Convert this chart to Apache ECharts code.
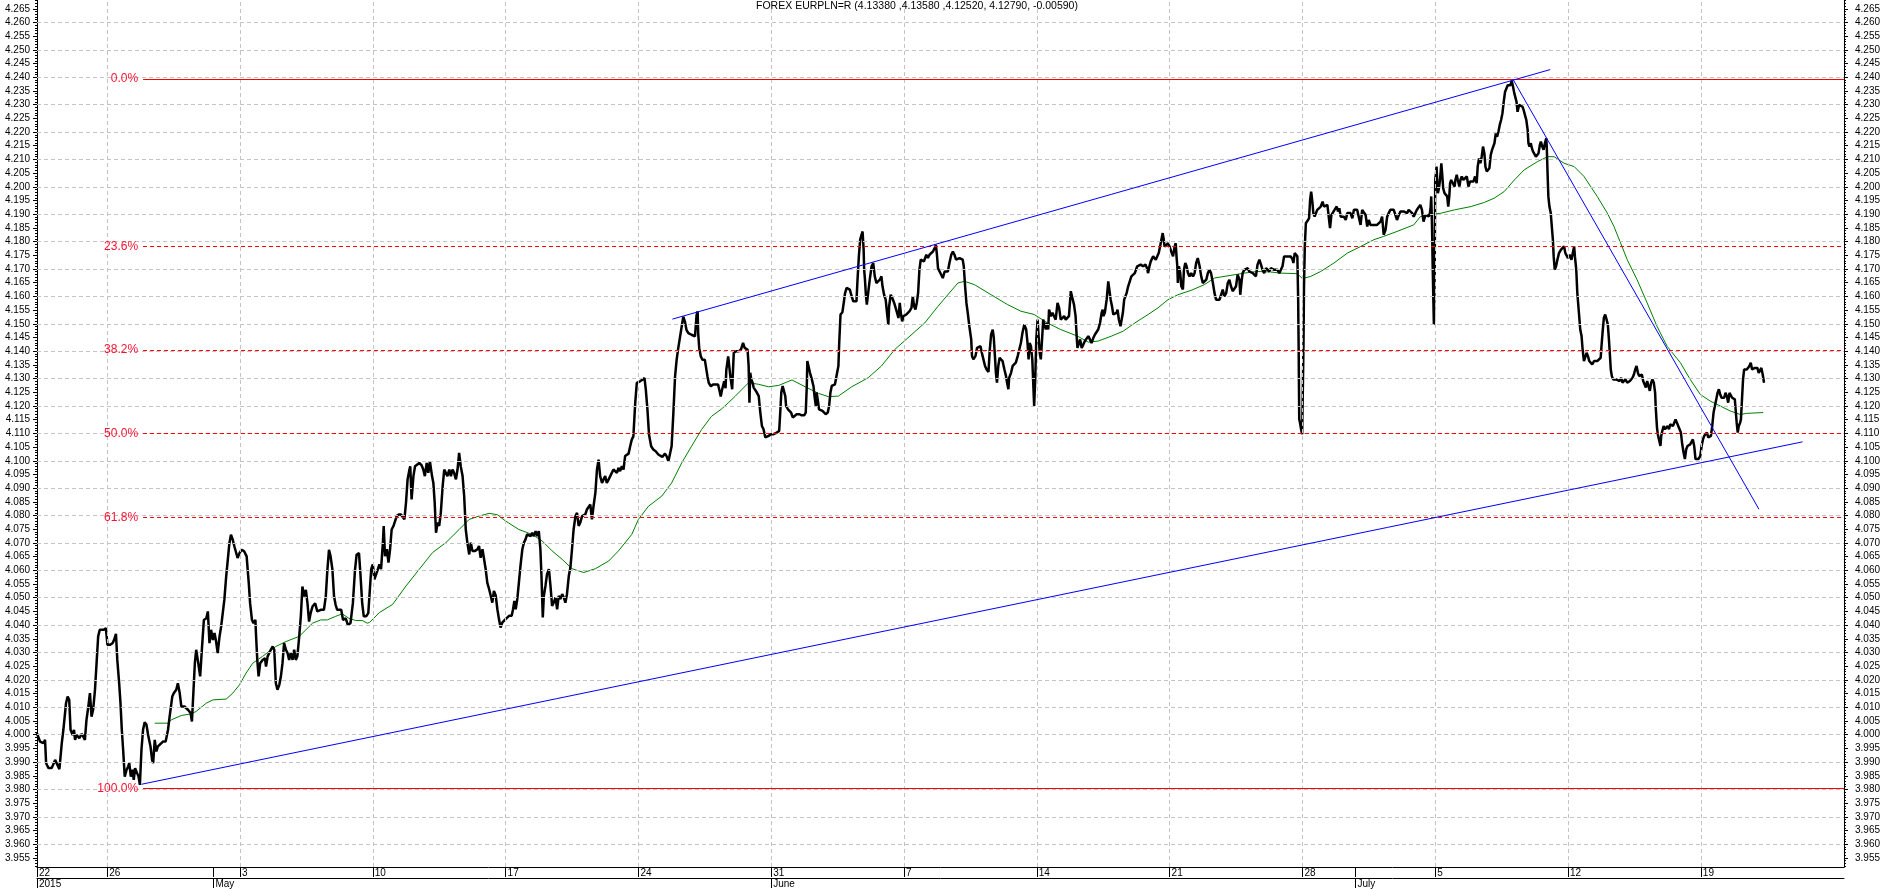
<!DOCTYPE html>
<html><head><meta charset="utf-8">
<script src="https://cdn.jsdelivr.net/npm/echarts@6/dist/echarts.min.js"></script>
<style>html,body{margin:0;padding:0;background:#fff}#c{width:1883px;height:889px}</style>
</head><body><div id="c"></div>
<script>
const titleText = 'FOREX EURPLN=R (4.13380 ,4.13580 ,4.12520, 4.12790, -0.00590)';
// x unit: trading days counted from the Sunday 26 Apr 2015 week tick
const xStart = -2.643, xEnd = 65.39;
const weekTicks = [xStart, 0, 5, 10, 15, 20, 25, 30, 35, 40, 45, 50, 55, 60];
const weekLabels = ['22', '26', '3', '10', '17', '24', '31', '7', '14', '21', '28', '5', '12', '19'];
const monthTicks = [xStart, 4, 25, 47];
const monthLabels = ['2015', 'May', 'June', 'July'];
const yMin = 3.9517, yMax = 4.2682;
const yTickFirst = 3.955, yTickLast = 4.265;
const fibLevels = [4.2394, 4.1783, 4.1405, 4.1099, 4.0793, 3.9804];
const fibLabels = ['0.0%', '23.6%', '38.2%', '50.0%', '61.8%', '100.0%'];
const fibStart = 1.35;
const channelLow = [[1.29, 3.9819], [63.83, 4.1069]];
const channelHigh = [[21.28, 4.1517], [54.33, 4.2428]];
const downTrend = [[52.93, 4.2392], [62.19, 4.0823]];

const price = [
[-2.65,4.0006],[-2.53,3.9975],[-2.40,3.9969],[-2.34,3.9981],[-2.30,3.9896],[-2.21,3.9878],[-2.09,3.9878],[-1.96,3.9908],[-1.90,3.9914],[-1.80,3.9874],[-1.71,3.9969],[-1.65,4.0018],[-1.55,4.0115],[-1.49,4.0139],[-1.43,4.0127],[-1.38,4.0018],[-1.30,3.9999],[-1.25,4.0018],[-1.21,3.9981],[-1.15,3.9999],[-1.05,3.9987],[-0.96,4.0003],[-0.90,3.9993],[-0.84,3.9981],[-0.78,4.0054],[-0.71,4.0103],[-0.65,4.0152],[-0.59,4.0066],[-0.53,4.0091],[-0.46,4.0164],[-0.40,4.0261],[-0.34,4.0359],[-0.28,4.0383],[-0.21,4.0389],[-0.13,4.0383],[-0.05,4.0389],[0.01,4.0328],[0.10,4.0328],[0.20,4.0334],[0.26,4.0346],[0.33,4.0368],[0.38,4.0273],[0.45,4.0188],[0.50,4.0115],[0.55,4.0018],[0.60,3.9945],[0.66,3.9847],[0.73,3.9872],[0.79,3.9884],[0.83,3.9896],[0.89,3.9847],[0.95,3.9872],[1.00,3.9835],[1.05,3.9878],[1.10,3.9872],[1.18,3.9847],[1.23,3.9817],[1.29,3.9945],[1.35,4.0018],[1.41,4.0045],[1.48,4.0036],[1.54,3.9999],[1.63,3.9957],[1.69,3.9908],[1.73,3.9896],[1.79,3.9981],[1.85,3.9939],[1.91,3.9957],[1.98,3.9963],[2.10,3.9975],[2.20,3.9975],[2.29,4.0018],[2.35,4.0066],[2.45,4.0139],[2.51,4.0152],[2.60,4.0164],[2.66,4.0188],[2.73,4.0152],[2.79,4.0103],[2.91,4.0103],[3.04,4.0091],[3.14,4.0079],[3.19,4.0048],[3.25,4.0164],[3.30,4.0261],[3.35,4.031],[3.41,4.0273],[3.50,4.0213],[3.58,4.0334],[3.64,4.0419],[3.73,4.0425],[3.79,4.045],[3.85,4.0334],[3.91,4.0383],[3.98,4.0346],[4.04,4.0371],[4.10,4.034],[4.16,4.0298],[4.23,4.0359],[4.29,4.0395],[4.35,4.0401],[4.41,4.0492],[4.48,4.0578],[4.54,4.0638],[4.60,4.0699],[4.66,4.073],[4.73,4.0711],[4.79,4.0687],[4.85,4.0693],[4.91,4.0645],[4.98,4.0663],[5.06,4.0675],[5.16,4.0669],[5.25,4.0651],[5.33,4.0553],[5.38,4.048],[5.45,4.0419],[5.51,4.0407],[5.58,4.0419],[5.60,4.0371],[5.65,4.0273],[5.70,4.0213],[5.76,4.0261],[5.85,4.0273],[5.94,4.0279],[5.98,4.0249],[6.04,4.0286],[6.10,4.0298],[6.16,4.031],[6.23,4.0322],[6.29,4.031],[6.35,4.0188],[6.41,4.0164],[6.48,4.0182],[6.54,4.0213],[6.60,4.0261],[6.66,4.0334],[6.73,4.031],[6.79,4.0298],[6.85,4.0273],[6.91,4.0298],[6.98,4.0273],[7.04,4.031],[7.10,4.0273],[7.16,4.0286],[7.23,4.0359],[7.29,4.0432],[7.35,4.0541],[7.41,4.0505],[7.48,4.0529],[7.54,4.048],[7.60,4.0413],[7.66,4.0444],[7.73,4.0468],[7.83,4.048],[7.91,4.045],[7.98,4.0444],[8.04,4.0456],[8.16,4.0456],[8.23,4.0505],[8.29,4.0602],[8.35,4.0675],[8.41,4.0651],[8.48,4.0602],[8.54,4.0505],[8.60,4.0474],[8.66,4.0456],[8.73,4.0462],[8.81,4.0456],[8.88,4.0419],[8.98,4.0425],[9.06,4.0401],[9.16,4.0407],[9.25,4.048],[9.33,4.0602],[9.39,4.0657],[9.48,4.0663],[9.54,4.0578],[9.60,4.048],[9.66,4.0432],[9.75,4.0432],[9.83,4.0444],
[9.94,4.0604],[10.00,4.0622],[10.06,4.0567],[10.13,4.0561],[10.19,4.0604],[10.25,4.0622],[10.31,4.0604],[10.38,4.0701],[10.41,4.0762],[10.46,4.0652],[10.53,4.0677],[10.59,4.0628],[10.65,4.0677],[10.71,4.0749],[10.78,4.0762],[10.85,4.0768],[10.90,4.0798],[10.98,4.0804],[11.06,4.0804],[11.13,4.081],[11.19,4.0786],[11.25,4.0847],[11.31,4.0932],[11.38,4.0968],[11.41,4.098],[11.46,4.0859],[11.53,4.0944],[11.59,4.098],[11.66,4.0986],[11.75,4.0992],[11.84,4.0983],[11.90,4.0968],[11.96,4.0944],[12.03,4.0992],[12.09,4.0956],[12.15,4.0998],[12.23,4.0944],[12.28,4.0919],[12.33,4.0847],[12.38,4.0737],[12.44,4.0774],[12.50,4.0762],[12.56,4.081],[12.63,4.0907],[12.69,4.0968],[12.75,4.0956],[12.81,4.0944],[12.88,4.0968],[12.94,4.0944],[13.00,4.0968],[13.06,4.0956],[13.13,4.0932],[13.19,4.0968],[13.25,4.1029],[13.31,4.098],[13.38,4.0944],[13.44,4.0871],[13.50,4.0749],[13.56,4.0701],[13.63,4.0658],[13.69,4.0701],[13.75,4.0671],[13.85,4.0671],[13.94,4.0677],[14.00,4.0689],[14.06,4.0646],[14.13,4.0677],[14.19,4.0671],[14.25,4.0604],[14.31,4.0555],[14.38,4.0531],[14.44,4.0507],[14.50,4.0482],[14.56,4.0525],[14.63,4.0507],[14.69,4.0458],[14.75,4.0422],[14.81,4.0391],[14.88,4.041],[15.00,4.0422],[15.13,4.0434],[15.23,4.0434],[15.28,4.0458],[15.33,4.0488],[15.38,4.0458],[15.44,4.0495],[15.50,4.0555],[15.56,4.0616],[15.63,4.0677],[15.69,4.0701],[15.75,4.0713],[15.81,4.0731],[15.88,4.0737],[15.94,4.0725],[16.00,4.0737],[16.06,4.0725],[16.13,4.0743],[16.19,4.0725],[16.25,4.0743],[16.31,4.0677],[16.35,4.058],[16.40,4.0428],[16.44,4.0507],[16.50,4.0543],[16.56,4.0586],[16.63,4.0604],[16.69,4.0543],[16.75,4.047],[16.81,4.0482],[16.88,4.0501],[16.94,4.0458],[17.00,4.0507],[17.06,4.0495],[17.13,4.0513],[17.19,4.0501],[17.25,4.0482],[17.31,4.0513],[17.38,4.058],[17.44,4.061],[17.50,4.0677],[17.56,4.0749],[17.63,4.0798],[17.69,4.081],[17.75,4.0762],[17.81,4.0774],[17.88,4.0798],[17.94,4.0792],[18.00,4.0804],[18.06,4.0822],[18.13,4.0828],[18.19,4.084],[18.25,4.0786],[18.31,4.0834],[18.38,4.0883],[18.44,4.0968],[18.50,4.1004],[18.56,4.0944],[18.63,4.0919],[18.69,4.0932],[18.75,4.0944],[18.81,4.0919],[18.88,4.0932],[18.94,4.0944],[19.00,4.095],[19.06,4.0968],[19.13,4.0962],[19.19,4.0956],[19.25,4.0974],[19.31,4.0962],[19.38,4.098],[19.44,4.0968],[19.50,4.1017],[19.56,4.1023],[19.63,4.1026],[19.69,4.1053],[19.75,4.1077],[19.81,4.1089],[19.88,4.1211],[19.94,4.1284],[20.00,4.129],[20.06,4.129],[20.15,4.1296],[20.23,4.1302],[20.28,4.1259],[20.34,4.1187],[20.40,4.1095],[20.48,4.1053],[20.56,4.1041],[20.65,4.1035],[20.75,4.1023],[20.81,4.1017],[20.90,4.1014],[21.00,4.1026],[21.06,4.1017],[21.13,4.0998],[21.19,4.0992],[21.25,4.1053],[21.31,4.1162],[21.38,4.1308],[21.44,4.1369],[21.50,4.1411],[21.56,4.1417],[21.63,4.149],[21.69,4.1526],[21.75,4.1508],[21.81,4.1478],[21.88,4.1466],[21.94,4.1466],[22.00,4.146],[22.06,4.1466],[22.13,4.1454],[22.19,4.1532],[22.23,4.1545],[22.25,4.1466],[22.29,4.1411],[22.35,4.1381],[22.41,4.1369],[22.50,4.1369],[22.56,4.1369],[22.60,4.1308],[22.65,4.1284],[22.73,4.1272],[22.81,4.1278],[22.88,4.1284],[23.00,4.1278],[23.06,4.1253],[23.10,4.1235],[23.15,4.1259],[23.23,4.129],[23.28,4.1265],[23.31,4.1332],[23.38,4.1381],
[23.40,4.1364],[23.46,4.1309],[23.53,4.1261],[23.59,4.1394],[23.68,4.14],[23.78,4.14],[23.86,4.1406],[23.94,4.143],[24.00,4.1412],[24.06,4.1418],[24.11,4.1406],[24.15,4.1346],[24.18,4.1212],[24.21,4.1321],[24.25,4.1297],[24.30,4.1285],[24.34,4.1267],[24.40,4.1261],[24.46,4.1249],[24.53,4.1236],[24.59,4.1176],[24.65,4.1127],[24.71,4.1115],[24.78,4.1085],[24.84,4.1079],[24.90,4.1091],[25.00,4.1097],[25.09,4.1097],[25.21,4.1103],[25.30,4.1109],[25.34,4.1176],[25.38,4.1249],[25.43,4.1273],[25.49,4.1279],[25.53,4.1236],[25.56,4.12],[25.63,4.1188],[25.69,4.1194],[25.75,4.1176],[25.81,4.1158],[25.88,4.1161],[25.96,4.117],[26.05,4.117],[26.15,4.1166],[26.24,4.1166],[26.30,4.1176],[26.34,4.1273],[26.36,4.1364],[26.40,4.1358],[26.46,4.1321],[26.53,4.1297],[26.59,4.1273],[26.63,4.1236],[26.68,4.12],[26.71,4.1249],[26.75,4.1224],[26.80,4.1188],[26.86,4.1182],[26.93,4.1182],[26.99,4.1176],[27.05,4.117],[27.13,4.1176],[27.18,4.12],[27.23,4.1249],[27.28,4.1273],[27.34,4.1279],[27.40,4.1279],[27.46,4.1285],[27.53,4.1346],[27.56,4.143],[27.61,4.1534],[27.68,4.1542],[27.73,4.1576],[27.78,4.1612],[27.84,4.1631],[27.90,4.1637],[27.96,4.1625],[28.03,4.16],[28.09,4.1582],[28.15,4.1586],[28.21,4.1582],[28.25,4.1661],[28.30,4.1746],[28.35,4.1807],[28.40,4.1825],[28.44,4.1837],[28.48,4.177],[28.50,4.1697],[28.53,4.1661],[28.56,4.1612],[28.60,4.157],[28.65,4.1612],[28.71,4.1661],[28.78,4.171],[28.84,4.1722],[28.86,4.1728],[28.90,4.1673],[28.96,4.1649],[29.03,4.1655],[29.09,4.1661],[29.15,4.1673],[29.19,4.1637],[29.25,4.1606],[29.31,4.1588],[29.36,4.154],[29.41,4.1497],[29.44,4.1564],[29.50,4.1606],[29.56,4.1594],[29.63,4.1576],[29.69,4.1582],[29.74,4.154],[29.79,4.1521],[29.84,4.1576],[29.88,4.154],[29.93,4.1509],[29.98,4.1528],[30.03,4.1534],[30.09,4.1534],[30.15,4.154],[30.21,4.1546],[30.28,4.1558],[30.33,4.16],[30.38,4.1564],[30.43,4.1552],[30.48,4.1576],[30.53,4.1612],[30.58,4.1697],[30.63,4.1734],[30.69,4.1728],[30.75,4.1728],[30.84,4.1752],[30.90,4.174],[30.96,4.1752],[31.03,4.1758],[31.09,4.1764],[31.15,4.1776],[31.20,4.1788],[31.24,4.1752],[31.28,4.1703],[31.34,4.1697],[31.40,4.1679],[31.46,4.1667],[31.53,4.1691],[31.59,4.1697],[31.65,4.1691],[31.71,4.1722],[31.78,4.1752],[31.84,4.1764],[31.90,4.1752],[31.96,4.1734],[32.03,4.174],[32.09,4.174],[32.15,4.1746],[32.21,4.1734],[32.25,4.171],[32.30,4.1637],[32.35,4.1576],[32.40,4.154],[32.46,4.1491],[32.53,4.1443],[32.56,4.1382],[32.61,4.137],[32.69,4.1382],[32.75,4.1412],[32.81,4.1412],[32.88,4.1418],[32.93,4.1394],[32.99,4.137],[33.05,4.1346],[33.11,4.1333],[33.18,4.1324],[33.23,4.1406],[33.28,4.1461],[33.34,4.1479],[33.38,4.1449],[33.43,4.137],[33.46,4.1321],[33.50,4.1285],[33.55,4.1346],[33.60,4.1376],[33.65,4.1376],[33.71,4.1364],[33.78,4.1333],[33.84,4.1309],[33.88,4.1285],[33.93,4.1261],[33.96,4.1303],[34.03,4.1321],[34.09,4.1346],[34.15,4.1352],[34.21,4.1358],[34.28,4.1382],[34.34,4.1406],[34.40,4.143],[34.46,4.1467],[34.53,4.1497],[34.56,4.1503],[34.60,4.1479],[34.65,4.143],[34.69,4.137],[34.73,4.143],[34.78,4.1418],[34.83,4.137],[34.86,4.1297],[34.90,4.12],[34.94,4.1297],[34.98,4.1443],[35.03,4.1515],[35.06,4.1467],[35.11,4.1394],[35.15,4.137],[35.19,4.143],[35.24,4.1515],[35.28,4.1515],[35.34,4.1479],[35.38,4.1503],[35.43,4.1479],[35.46,4.1552],[35.53,4.1528],[35.59,4.154],[35.65,4.1546],[35.71,4.1515],[35.78,4.1576],[35.84,4.1558],[35.90,4.1515],[35.96,4.1515],[36.03,4.1528],[36.09,4.1515],[36.15,4.1515],[36.21,4.1528],[36.28,4.1619],[36.34,4.1594],[36.40,4.157],[36.46,4.1528],[36.50,4.1455],[36.53,4.1412],
[36.56,4.1418],[36.63,4.1443],[36.69,4.1412],[36.75,4.1424],[36.81,4.1437],[36.88,4.143],[36.94,4.1455],[37.00,4.1443],[37.06,4.143],[37.13,4.1449],[37.19,4.1461],[37.25,4.1467],[37.31,4.1479],[37.38,4.1503],[37.44,4.154],[37.48,4.1552],[37.51,4.1528],[37.56,4.154],[37.63,4.1588],[37.69,4.1655],[37.73,4.1661],[37.78,4.1588],[37.83,4.1564],[37.88,4.1534],[37.94,4.1528],[38.00,4.154],[38.04,4.1552],[38.09,4.1515],[38.15,4.1491],[38.19,4.1485],[38.24,4.154],[38.29,4.1588],[38.38,4.1612],[38.44,4.1637],[38.50,4.1655],[38.56,4.1673],[38.63,4.1673],[38.69,4.1685],[38.78,4.171],[38.84,4.1716],[38.91,4.1716],[39.00,4.171],[39.09,4.1716],[39.15,4.1703],[39.19,4.1685],[39.24,4.171],[39.29,4.1728],[39.34,4.1734],[39.38,4.1746],[39.44,4.1752],[39.48,4.1734],[39.54,4.174],[39.59,4.1758],[39.64,4.1782],[39.69,4.1807],[39.74,4.1831],[39.78,4.1807],[39.81,4.1782],[39.88,4.1788],[39.94,4.1794],[40.00,4.1782],[40.06,4.1764],[40.13,4.1746],[40.19,4.1782],[40.23,4.1794],[40.26,4.1746],[40.29,4.171],[40.31,4.1649],[40.35,4.171],[40.40,4.1685],[40.44,4.1637],[40.50,4.1625],[40.54,4.1697],[40.59,4.1722],[40.64,4.171],[40.69,4.1685],[40.75,4.1673],[40.81,4.1685],[40.88,4.1673],[40.94,4.1685],[41.00,4.1722],[41.06,4.174],[41.13,4.171],[41.19,4.1673],[41.25,4.1649],[41.31,4.1649],[41.38,4.1661],[41.44,4.1685],[41.50,4.1697],[41.56,4.1685],[41.63,4.1649],[41.69,4.1612],[41.75,4.1588],[41.81,4.1594],[41.88,4.1588],[41.94,4.1582],[42.00,4.1625],[42.06,4.16],[42.13,4.1612],[42.19,4.1649],[42.25,4.1661],[42.31,4.1637],[42.38,4.1619],[42.44,4.1612],[42.50,4.1637],[42.56,4.1679],[42.63,4.1661],[42.66,4.1606],[42.71,4.1655],[42.75,4.1685],[42.81,4.1697],[42.88,4.1703],[42.94,4.1703],[43.00,4.1691],[43.06,4.1691],[43.13,4.1685],[43.19,4.1685],[43.25,4.1673],[43.31,4.1716],[43.38,4.1734],[43.44,4.1716],[43.50,4.1697],[43.56,4.1685],[43.63,4.1703],[43.69,4.1697],[43.75,4.1691],[43.81,4.1703],[43.88,4.1703],[43.94,4.1697],[44.00,4.1703],[44.06,4.1697],[44.13,4.1685],[44.19,4.1679],[44.25,4.171],[44.31,4.1746],[44.38,4.1752],[44.44,4.1746],[44.50,4.1746],[44.56,4.1746],[44.63,4.1734],[44.66,4.1722],[44.71,4.1758],[44.78,4.1764],[44.81,4.1746],[44.84,4.1588],[44.86,4.1394],[44.88,4.1152],[44.91,4.1139],[44.95,4.1115],[44.99,4.1097],[45.01,4.1224],[45.04,4.1418],[45.06,4.1637],[45.09,4.1782],[45.13,4.1867],[45.19,4.1867],[45.25,4.1885],[45.29,4.1952],[45.33,4.1982],[45.38,4.194],[45.41,4.1904],[45.46,4.1891],[45.51,4.1904],[45.56,4.1916],[45.63,4.1922],[45.69,4.1928],[45.76,4.1946],[45.81,4.1928],[45.88,4.1922],[45.94,4.1934],[46.00,4.1928],[46.04,4.1849],[46.09,4.1897],[46.15,4.1904],[46.21,4.1916],[46.29,4.1928],[46.34,4.191],[46.39,4.1922],[46.44,4.1891],[46.50,4.1897],[46.56,4.1891],[46.63,4.1879],[46.69,4.1904],[46.75,4.1897],[46.81,4.1904],[46.88,4.1885],[46.94,4.1916],[47.00,4.191],[47.06,4.1916],[47.13,4.191],[47.19,4.1861],[47.25,4.1916],[47.31,4.1916],[47.38,4.1897],[47.44,4.1855],[47.50,4.1879],[47.56,4.1861],[47.63,4.1867],[47.69,4.1861],[47.75,4.1867],[47.81,4.1861],[47.88,4.1867],[47.94,4.1873],[48.00,4.1891],[48.06,4.1825],[48.13,4.1843],[48.19,4.1891],[48.25,4.1904],[48.31,4.1916],[48.38,4.1916],[48.44,4.1916],[48.50,4.191],[48.56,4.1879],[48.63,4.1897],[48.69,4.191],[48.75,4.1904],[48.81,4.191],[48.88,4.1904],[48.94,4.1904],[49.00,4.1916],[49.06,4.1916],[49.13,4.1904],[49.19,4.1891],[49.25,4.1897],[49.31,4.1916],[49.38,4.1922],[49.44,4.1934],[49.50,4.1916],[49.56,4.1873],[49.63,4.1897],[49.69,4.1897],
[49.76,4.1892],[49.80,4.1904],[49.83,4.1928],[49.85,4.1965],[49.88,4.1855],[49.90,4.1734],[49.93,4.1588],[49.95,4.1497],[49.98,4.1685],[50.00,4.2025],[50.03,4.205],[50.05,4.2074],[50.08,4.2013],[50.10,4.1977],[50.14,4.1995],[50.18,4.2025],[50.23,4.2086],[50.26,4.205],[50.30,4.1995],[50.35,4.1977],[50.41,4.1983],[50.45,4.1965],[50.49,4.1928],[50.53,4.1965],[50.56,4.2013],[50.60,4.2025],[50.66,4.2019],[50.73,4.2001],[50.76,4.2025],[50.81,4.2044],[50.85,4.2025],[50.91,4.2001],[50.95,4.2025],[51.00,4.2038],[51.06,4.2025],[51.13,4.2019],[51.19,4.2038],[51.25,4.2001],[51.31,4.2019],[51.38,4.2025],[51.44,4.2019],[51.50,4.2038],[51.56,4.2013],[51.60,4.2074],[51.65,4.2104],[51.70,4.2086],[51.75,4.211],[51.80,4.2147],[51.85,4.2123],[51.89,4.2074],[51.94,4.2056],[51.99,4.2056],[52.04,4.2068],[52.09,4.2116],[52.14,4.2135],[52.19,4.2141],[52.23,4.2159],[52.28,4.2195],[52.33,4.2183],[52.38,4.2201],[52.43,4.2226],[52.48,4.2244],[52.53,4.2268],[52.58,4.2311],[52.63,4.2347],[52.68,4.2359],[52.73,4.2371],[52.78,4.2365],[52.83,4.2371],[52.88,4.2387],[52.93,4.2365],[52.98,4.2341],[53.01,4.2335],[53.06,4.2311],[53.10,4.2274],[53.16,4.2299],[53.23,4.2305],[53.29,4.2292],[53.33,4.228],[53.38,4.2262],[53.43,4.2244],[53.48,4.2208],[53.51,4.2159],[53.55,4.2147],[53.60,4.2159],[53.64,4.2141],[53.68,4.2129],[53.73,4.2123],[53.79,4.211],[53.85,4.2104],[53.89,4.2123],[53.94,4.2153],[53.98,4.2165],[54.03,4.2147],[54.08,4.2135],[54.13,4.2159],[54.18,4.2177],[54.20,4.2147],[54.23,4.205],[54.26,4.1965],[54.30,4.1928],[54.35,4.1904],[54.39,4.1855],[54.43,4.1807],[54.46,4.1746],[54.50,4.1698],[54.55,4.171],[54.60,4.1734],[54.66,4.1758],[54.73,4.177],[54.79,4.1777],[54.85,4.1783],[54.90,4.1758],[54.95,4.1758],[55.00,4.174],[55.06,4.1752],[55.13,4.1734],[55.18,4.1758],[55.23,4.1783],[55.26,4.1746],[55.31,4.1698],[55.35,4.1613],[55.39,4.1564],[55.43,4.1516],[55.46,4.1479],[55.51,4.1455],[55.55,4.1406],[55.60,4.1364],[55.65,4.137],[55.70,4.1394],[55.75,4.1382],[55.80,4.1364],[55.85,4.1358],[55.91,4.1352],[55.98,4.1364],[56.04,4.137],[56.10,4.1364],[56.16,4.1358],[56.23,4.1376],[56.26,4.1418],[56.31,4.1479],[56.35,4.1522],[56.40,4.1534],[56.45,4.1516],[56.50,4.1497],[56.54,4.1443],[56.58,4.1382],[56.61,4.1333],[56.65,4.1309],[56.70,4.1297],[56.75,4.1303],[56.81,4.1297],[56.88,4.1303],[56.94,4.1291],[57.00,4.1303],[57.05,4.1285],[57.10,4.1285],[57.16,4.1297],[57.23,4.1285],[57.28,4.1285],[57.33,4.1291],[57.38,4.1297],[57.43,4.1303],[57.48,4.1315],[57.53,4.1333],[57.58,4.1346],[57.63,4.1321],[57.68,4.1309],[57.73,4.1309],[57.78,4.1315],[57.83,4.1291],[57.88,4.1279],[57.93,4.1267],[57.98,4.1291],[58.03,4.1273],[58.08,4.1255],[58.13,4.1285],[58.18,4.1297],[58.23,4.1285],[58.28,4.1248],[58.30,4.12],[58.33,4.1151],[58.35,4.1121],[58.38,4.1097],[58.43,4.1103],[58.48,4.1054],[58.51,4.1091],[58.55,4.1109],[58.60,4.1127],[58.65,4.1115],[58.70,4.1121],[58.75,4.1127],[58.80,4.1115],[58.85,4.1133],[58.90,4.1139],[58.95,4.1127],[59.00,4.1139],[59.05,4.1151],[59.10,4.1151],[59.15,4.1127],[59.20,4.1115],[59.25,4.1103],[59.30,4.106],[59.35,4.103],[59.40,4.1006],[59.45,4.1042],[59.50,4.1054],[59.55,4.1048],[59.60,4.106],[59.65,4.1066],[59.70,4.1078],[59.75,4.1054],[59.80,4.1006],[59.85,4.1],[59.91,4.1006],[59.98,4.1018],[60.03,4.1054],[60.08,4.1078],[60.13,4.1091],[60.18,4.1097],[60.23,4.1103],[60.28,4.1085],[60.33,4.1091],[60.38,4.1091],[60.43,4.1127],[60.48,4.1176],[60.53,4.12],[60.58,4.1224],[60.63,4.1248],[60.68,4.1261],[60.73,4.1242],[60.78,4.123],[60.83,4.1224],[60.88,4.123],[60.93,4.1248],[60.98,4.1236],[61.03,4.1212],[61.08,4.1248],[61.13,4.1242],[61.18,4.123],[61.23,4.1236],[61.28,4.1224],[61.31,4.1188],[61.35,4.1139],[61.39,4.1103],[61.43,4.1127],[61.48,4.1139],[61.51,4.1151],[61.55,4.1224],[61.59,4.1297],[61.63,4.1333],[61.68,4.1339],[61.73,4.1333],[61.78,4.1339],[61.83,4.1346],[61.88,4.1358],[61.93,4.1333],[61.98,4.1327],[62.03,4.1339],[62.08,4.1333],[62.13,4.1339],[62.18,4.1321],[62.23,4.1327],[62.28,4.1339],[62.33,4.1315],[62.38,4.1285]
];

const movingAvg = [
[1.79,4.0042],[2.29,4.0042],[2.41,4.0054],[2.79,4.007],[3.16,4.0076],[3.35,4.0085],[3.73,4.0115],[3.98,4.0127],[4.48,4.013],[4.73,4.0152],[4.98,4.0182],[5.23,4.0225],[5.48,4.0261],[5.85,4.0286],[6.35,4.0322],[6.73,4.034],[7.23,4.0359],[7.48,4.0383],[7.73,4.0407],[8.04,4.0419],[8.29,4.0419],[8.60,4.0432],[8.85,4.0441],[9.10,4.0425],[9.35,4.0417],[9.60,4.0417],[9.79,4.0407],[9.88,4.041],[10.25,4.0446],[10.75,4.0476],[11.25,4.0543],[11.75,4.0604],[12.25,4.0665],[12.75,4.0701],[13.25,4.0749],[13.63,4.0786],[14.00,4.0798],[14.38,4.0808],[14.69,4.0803],[15.00,4.078],[15.50,4.0749],[16.00,4.0731],[16.38,4.0707],[16.75,4.0671],[17.13,4.064],[17.50,4.0606],[17.94,4.0592],[18.38,4.0606],[18.88,4.0634],[19.25,4.0671],[19.75,4.0731],[20.00,4.0786],[20.38,4.0834],[20.88,4.0871],[21.25,4.0919],[21.63,4.0992],[22.00,4.1053],[22.38,4.1114],[22.75,4.1162],[23.13,4.1189],[23.38,4.1211],[23.65,4.1236],[24.15,4.1285],[24.53,4.1279],[24.90,4.127],[25.28,4.1275],[25.78,4.1295],[26.28,4.127],[26.78,4.1246],[27.15,4.1234],[27.53,4.1236],[28.03,4.127],[28.65,4.1303],[29.15,4.1346],[29.65,4.1406],[30.15,4.1449],[30.78,4.1503],[31.28,4.1564],[31.65,4.1606],[32.03,4.1649],[32.28,4.1655],[32.65,4.1643],[33.28,4.1606],[33.90,4.157],[34.40,4.1546],[34.90,4.1534],[35.40,4.1503],[35.90,4.1479],[36.53,4.1455],[36.94,4.1433],[37.31,4.1437],[37.81,4.1455],[38.25,4.1473],[38.69,4.1503],[39.19,4.1534],[39.56,4.1558],[39.94,4.1588],[40.31,4.1606],[40.81,4.1622],[41.31,4.1643],[41.69,4.1667],[42.31,4.1677],[42.81,4.1685],[43.31,4.1691],[43.81,4.1689],[44.19,4.1685],[44.81,4.1683],[45.00,4.1665],[45.31,4.1673],[45.69,4.1691],[46.19,4.1722],[46.69,4.1758],[47.19,4.1782],[47.69,4.1807],[48.06,4.1819],[48.56,4.1837],[49.19,4.1861],[49.44,4.1891],[49.69,4.1897],[50.23,4.1904],[50.73,4.1916],[51.35,4.1928],[51.85,4.1943],[52.23,4.1959],[52.60,4.1983],[52.98,4.2025],[53.35,4.2062],[53.85,4.2092],[54.23,4.211],[54.48,4.211],[54.85,4.2086],[55.23,4.2074],[55.60,4.2038],[56.10,4.1965],[56.48,4.1904],[56.73,4.1855],[56.98,4.1795],[57.23,4.1734],[57.60,4.1661],[57.98,4.1576],[58.35,4.1491],[58.73,4.1418],[59.23,4.1358],[59.60,4.1297],[59.98,4.1242],[60.35,4.1218],[60.73,4.12],[61.10,4.1182],[61.48,4.1169],[61.73,4.1173],[62.35,4.1176]
];

// axis tick lists
const yTicks = [];
for (let i = 0; i <= Math.round((yTickLast - yTickFirst) / 0.005); i++) yTicks.push(+(yTickFirst + i * 0.005).toFixed(3));
const yMinorTicks = [];
for (let i = Math.ceil(yMin * 1000); i <= Math.floor(yMax * 1000); i++) yMinorTicks.push(i / 1000);

const FONT = 'Liberation Sans, Arial, sans-serif';
function lookup(ticks, labels) {
  return function (v) {
    for (let i = 0; i < ticks.length; i++) if (Math.abs(ticks[i] - v) < 1e-6) return labels[i];
    return '';
  };
}
function yAxisMajor(pos) {
  return {
    type: 'value', min: yMin, max: yMax, position: pos,
    axisLine: { show: true, onZero: false, lineStyle: { color: '#000', width: 1 } },
    axisTick: { show: true, length: 4, customValues: yTicks, lineStyle: { color: '#000' } },
    axisLabel: { show: true, customValues: yTicks, formatter: v => v.toFixed(3), color: '#000', fontSize: 10, fontFamily: FONT, margin: pos === 'left' ? 7 : 11 },
    splitLine: { show: false }
  };
}
function yAxisMinor(pos) {
  return {
    type: 'value', min: yMin, max: yMax, position: pos,
    axisLine: { show: false, onZero: false },
    axisTick: { show: true, length: 2, customValues: yMinorTicks, lineStyle: { color: '#000' } },
    axisLabel: { show: false },
    splitLine: { show: false }
  };
}

const gridLineData = weekTicks.slice(1).map(t => ({ xAxis: t })).concat(yTicks.map(v => ({ yAxis: v })));
const fibLineData = fibLevels.map((v, i) => [
  { coord: [fibStart, v], lineStyle: { color: '#ff0000', width: 1, type: (i === 0 || i === fibLevels.length - 1) ? 'solid' : [4, 3] }, label: { formatter: fibLabels[i] } },
  { coord: [xEnd, v] }
]);

const chart = echarts.init(document.getElementById('c'), null, { renderer: 'canvas' });
chart.setOption({
  animation: false,
  backgroundColor: '#fff',
  grid: { left: 37, right: 36, top: 0, bottom: 21, containLabel: false },
  xAxis: [
    {
      type: 'value', min: xStart, max: xEnd, position: 'bottom',
      axisLine: { show: true, onZero: false, lineStyle: { color: '#000', width: 1 } },
      axisTick: { show: true, length: 10, customValues: weekTicks.concat(monthTicks.slice(1)), lineStyle: { color: '#000' } },
      axisLabel: { customValues: weekTicks, formatter: lookup(weekTicks, weekLabels), align: 'left', verticalAlign: 'top', padding: [0, 0, 0, 2], margin: 1, color: '#000', fontSize: 10, fontFamily: FONT },
      splitLine: { show: false }
    },
    {
      type: 'value', min: xStart, max: xEnd, position: 'bottom', offset: 11,
      axisLine: { show: true, onZero: false, lineStyle: { color: '#000', width: 1 } },
      axisTick: { show: true, length: 10, customValues: monthTicks, lineStyle: { color: '#000' } },
      axisLabel: { customValues: monthTicks, formatter: lookup(monthTicks, monthLabels), align: 'left', verticalAlign: 'top', padding: [0, 0, 0, 2], margin: 1, color: '#000', fontSize: 10, fontFamily: FONT },
      splitLine: { show: false }
    }
  ],
  yAxis: [yAxisMajor('left'), yAxisMinor('left'), yAxisMajor('right'), yAxisMinor('right')],
  graphic: [{
    type: 'text', x: 917, y: 1, z: 100,
    style: { text: titleText, textAlign: 'center', textVerticalAlign: 'top', fontSize: 10.5, fontFamily: FONT, fill: '#000' }
  }],
  series: [
    {
      type: 'line', data: [], z: 1, silent: true,
      markLine: { silent: true, symbol: ['none', 'none'], label: { show: false }, lineStyle: { color: '#c4c4c4', width: 1, type: [4, 3] }, data: gridLineData }
    },
    {
      type: 'line', data: [], z: 2, silent: true,
      markLine: { silent: true, symbol: ['none', 'none'], label: { show: true, position: 'start', distance: 5, color: '#ff1030', fontSize: 12, fontFamily: FONT }, lineStyle: { color: '#ff0000', width: 1 }, data: fibLineData }
    },
    { type: 'line', data: movingAvg, showSymbol: false, z: 3, lineStyle: { color: '#008000', width: 1 }, silent: true },
    { type: 'line', data: price, showSymbol: false, z: 4, lineStyle: { color: '#000000', width: 2.5 }, silent: true, sampling: null },
    { type: 'line', data: channelLow, showSymbol: false, z: 5, lineStyle: { color: '#0000ff', width: 1 }, silent: true },
    { type: 'line', data: channelHigh, showSymbol: false, z: 5, lineStyle: { color: '#0000ff', width: 1 }, silent: true },
    { type: 'line', data: downTrend, showSymbol: false, z: 5, lineStyle: { color: '#0000ff', width: 1 }, silent: true }
  ]
});
</script>
</body></html>
